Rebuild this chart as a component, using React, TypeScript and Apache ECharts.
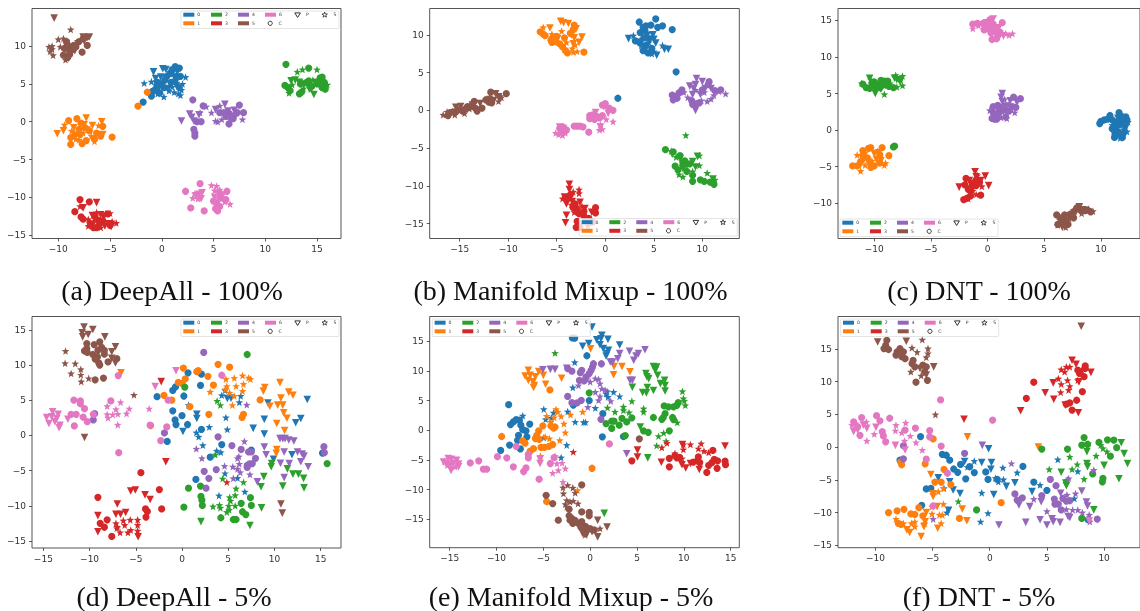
import React, { useEffect, useRef } from "react";
import * as echarts from "echarts";

type P = number[][];
const classNames = ["0", "1", "2", "3", "4", "5", "6"];
const domainNames = ["C", "P", "S"];
const colors = ["#1f77b4", "#ff7f0e", "#2ca02c", "#d62728", "#9467bd", "#8c564b", "#e377c2"];
const captions = ["(a) DeepAll - 100%", "(b) Manifold Mixup - 100%", "(c) DNT - 100%", "(d) DeepAll - 5%", "(e) Manifold Mixup - 5%", "(f) DNT - 5%"];

// Panel (a)
const a0c: P = [[-1.8,2.6],[-1,3.4],[-0.9,4],[-0.6,4.3],[-0.2,3.8],[0.2,4.5],[0.5,6],[0.8,6.4],[1.3,7.3],[1.7,7.1],[1,6.9],[1.4,6],[0,5],[1.7,4.5],[1.2,5.3],[1.8,6],[0.9,5.2],[-0.4,5.2],[0.3,5.5]];
const a0p: P = [[-0.8,6.6],[0.1,7],[0.4,6.9],[-0.6,5.7],[-0.5,5],[-0.1,5.9],[0.4,5.8],[1,6.3],[1.5,6.6],[-0.3,4.4],[0.6,4.4],[1.4,4.8],[1.5,5.6]];
const a0s: P = [[-1.7,5.1],[-1,5.3],[-0.4,3.7],[0.2,3.3],[1.6,3.7],[1.2,3.9],[2.3,5.9],[2,5],[1.8,3.5],[-0.6,4.9],[0.7,4.1],[1.9,4.2],[1,4.6]];
const a1c: P = [[-2.3,2.05],[-1.4,3.9],[-4.8,-2.05],[-9,0.15],[-8.2,0.4],[-8.8,-3],[-8.8,-2.1],[-8.4,-1.7],[-8,-1],[-7.8,-0.2],[-7.7,-2.9],[-7.3,-2.5],[-7,-1.2],[-6.5,-2.3],[-6.3,-1.5],[-5.7,-0.6],[-5.9,-1.9],[-7.9,-1.7],[-7.4,-0.8]];
const a1p: P = [[-10.1,-1.6],[-9.5,-1.2],[-7.3,0.5],[-5.8,0],[-5.7,-1.7],[-6,-1.9],[-7.2,-1.1],[-8.5,-0.8],[-7.5,-0.4],[-6.7,-0.5]];
const a1s: P = [[-9.4,-0.4],[-8.7,-1.2],[-8,-2.4],[-6.5,-2.6],[-6.1,-0.5],[-7.6,-1.5],[-8.3,-2.3],[-6.8,-1.9]];
const a2c: P = [[12,7.6],[11.9,4.8],[12.2,4.5],[12.4,4.1],[13.3,3.7],[13.5,3.9],[14,5.2],[14.5,4.7],[15,5],[15.3,5.8],[15.5,5.9],[15.7,5.2],[15.8,4.3],[15.5,4.5],[14.2,7.1],[13.4,5],[14.2,5.4]];
const a2p: P = [[12.9,5.5],[13.3,5.2],[13.8,5],[14.2,4.5],[14.7,3.6],[14.9,5.2],[15.2,4.9],[12.5,5.4]];
const a2s: P = [[13.1,6.6],[13.6,6.9],[15,6.9],[12.3,3.8],[16,4.9],[12.6,4.9],[13.7,4.4],[14.4,4.3],[15.4,5.3],[14.6,5.5]];
const a3c: P = [[-7.9,-10.3],[-7,-10.6],[-8.4,-11.9],[-7.8,-12.6],[-7.6,-12.9],[-6.9,-13.5],[-6.6,-14],[-6.3,-14],[-6.2,-13],[-6,-13.5],[-5.2,-12.2],[-5,-13.7],[-6.5,-12.5],[-5.7,-13.1]];
const a3p: P = [[-6.3,-10.7],[-7.6,-11.4],[-6.7,-12.4],[-5.9,-12.3],[-5.6,-12.6],[-5.1,-13.5],[-4.9,-13.9],[-5.5,-13.8]];
const a3s: P = [[-7.9,-11.2],[-6.3,-12],[-5.4,-12.1],[-5,-12.1],[-7.1,-12.9],[-6.6,-13.2],[-4.4,-13.4],[-5.9,-14],[-4.8,-13.2],[-7.1,-13.8]];
const a4c: P = [[3,2.9],[4,2.1],[3.1,-1],[3.2,-1.5],[3.2,-1.9],[7.5,2.2],[7.9,1.2],[6.5,1.1],[6.2,0.7],[6,1.2],[5.6,1.2],[6.9,0.4],[6.5,-0.3],[3.8,0],[3.4,0],[6.6,0.7],[7.3,1.2]];
const a4p: P = [[1.9,0.1],[2.7,1],[2.9,0.6],[3.1,0.1],[3.6,0.9],[6.1,2.3],[7,1.5],[6.6,0.2],[5.2,1.6],[6.4,1.4],[7.1,0.7]];
const a4s: P = [[4.3,2],[5.6,2.1],[7.8,0.3],[5.2,0.1],[5.4,0],[5.8,0.3],[7.2,1.1],[4.8,1.2],[6.9,0.9],[3.7,1.2]];
const a5c: P = [[-7.7,9.2],[-7.2,10.1],[-9.2,10.6],[-9,10],[-9.4,9.7],[-9.5,8.8],[-8.7,9.5],[-8.5,10.1],[-8,10.6],[-7.6,11],[-7.3,11.2],[-8.9,8.9],[-9.1,8.5],[-8.9,9.3],[-8.3,9.9]];
const a5p: P = [[-10.4,13.7],[-7.6,11.2],[-7,11.2],[-7.5,10.7],[-8.1,10.3],[-9.2,10],[-8.8,9],[-9,8.4],[-8.4,9.4]];
const a5s: P = [[-8.8,12.2],[-10,10.9],[-9.8,9.9],[-10.6,10],[-10.9,9.9],[-10.8,9.3],[-10.5,8.8],[-10.6,9.6],[-9.3,8.2],[-9.5,11]];
const a6c: P = [[3.7,-8.2],[2.3,-9.2],[2.8,-11.4],[4.1,-11.8],[6.3,-9.2],[6.2,-10.3],[5.2,-11.5],[5.4,-11.8],[5.6,-11.2],[5.3,-10.8],[5,-10.5],[5.6,-10.1]];
const a6p: P = [[3.3,-9.8],[3.6,-9.6],[3.9,-9.4],[3.8,-10.2],[5.1,-10],[5.5,-9.5],[6,-10.4],[5.7,-9.7]];
const a6s: P = [[3.2,-9.5],[4.8,-8.4],[5.3,-8.5],[6.6,-10.9],[5.1,-9.1],[3.5,-10.2],[5.9,-9.6],[6.1,-10.6],[3,-10.1],[5.6,-9]];

// Panel (b)
const b0c: P = [[5.2,12.1],[3.5,11.7],[3.9,11],[4.2,11.2],[4.7,11.3],[5.4,11],[5.9,11.2],[6.9,10.7],[3.6,10.3],[4.1,10.5],[7.3,5.1],[1.3,1.6],[3.1,9.2],[3.6,8.9],[4.2,8.6],[3.9,7.9],[4.4,7.6],[4.8,8.2],[4,9.6],[4.5,9.5]];
const b0p: P = [[2.4,9.5],[5,9.4],[5.2,8.9],[6.1,8.1],[6.5,8.1],[5.3,7.3],[4.3,9.9],[4.9,10],[3.4,9]];
const b0s: P = [[2.9,9.9],[3.6,9.3],[4.5,9],[5,7.8],[4.8,7.5],[5.9,8.6],[4.1,8.2],[4.6,7.9],[3.7,8.6]];
const b1c: P = [[-2.2,7.7],[-6.7,10.4],[-6.4,10.1],[-6.2,9.9],[-5.5,9.5],[-5.5,9],[-5,9.8],[-4.7,8.8],[-4.4,8.4],[-4.1,7.9],[-3.9,7.6],[-3.3,10.7],[-3.6,10.2],[-3.2,11.3],[-5.6,9.3],[-5.1,9.1],[-4.2,9.6]];
const b1p: P = [[-4.6,11.8],[-4.3,11.6],[-5.7,10.9],[-3.8,11.5],[-3,10.8],[-3.2,9.6],[-2.4,9.7],[-2.7,9],[-4.9,9.5],[-3.5,10],[-5.2,9.2],[-3.3,8.8]];
const b1s: P = [[-6.4,11],[-3.1,8.7],[-3.4,8.2],[-3.3,7.7],[-4.5,10.5],[-4,9],[-5.5,10.1],[-2.9,7.8]];
const b2c: P = [[6.2,-5.2],[7,-5.5],[7.7,-6],[8,-6.9],[7.2,-7.4],[7.5,-7.9],[8.4,-8.1],[9,-8.6],[9,-9.4],[9.8,-9.2],[10.2,-9.4],[10.8,-9.5],[11.2,-9.8],[8.2,-6.7],[8.7,-7.1],[8,-7.3]];
const b2p: P = [[6.9,-5.8],[7.7,-6.4],[8.4,-7.3],[9,-6.8],[9.5,-6.1],[8,-7.7],[11.1,-9.1],[9.3,-7.5]];
const b2s: P = [[8.3,-3.3],[6.8,-5.4],[7.3,-6.2],[7.6,-8.5],[8,-8.8],[9.7,-6],[9.7,-7.3],[10.5,-8.3],[11.3,-9.2],[9,-8.1]];
const b3c: P = [[-1,-12.9],[-1,-13.6],[-3.6,-11.2],[-3.9,-11.7],[-3.1,-12.4],[-2.9,-13.1],[-2.7,-13.7],[-2.2,-14],[-1.7,-14.3],[-1.3,-14.8],[-3,-15.5],[-2.6,-15.5],[-2.9,-14.7],[-3.3,-12.9],[-2.2,-13.4]];
const b3p: P = [[-3.7,-9.8],[-3.7,-10.5],[-4.2,-11.5],[-4,-12.4],[-4,-13.9],[-4.1,-14.9],[-3.4,-12.1],[-2.6,-12.2],[-2.1,-13],[-1.4,-13.5]];
const b3s: P = [[-2.7,-10.5],[-2.7,-11],[-3.3,-10.8],[-4.4,-11.7],[-3.5,-12.5],[-2.4,-12.7],[-1.8,-15.3],[-3.2,-13.5],[-2.1,-14.5]];
const b4c: P = [[6.9,2],[7,1.4],[7.4,1.6],[7.6,2.3],[7.9,2.7],[10.7,3.8],[10.6,3.4],[9,0.8],[9.4,0.9],[9.7,1],[8.9,1.3],[11.3,2.6],[11.9,2.7],[7.2,1.8],[10,2.7]];
const b4p: P = [[9.4,4.2],[8.7,3.2],[9.1,2.9],[10,3.8],[10.3,2.9],[9.3,3.4],[9.3,0],[9.8,2.1],[9,2.1],[10.9,2.9]];
const b4s: P = [[12.4,2.2],[8.1,2.4],[8.5,1.7],[9.3,2.7],[10.5,1.2],[10.9,1.5],[11.2,2],[9.9,1.3],[10.2,2.4],[11.7,2.5]];
const b5c: P = [[-10.2,2.2],[-11.8,2.4],[-16.2,-0.7],[-16,-0.3],[-15.7,-0.2],[-15,0.1],[-14.7,-0.1],[-14.2,0.5],[-13.9,0.5],[-13.4,0.3],[-13.2,-0.1],[-13.5,1.2],[-12.7,0.3],[-12.3,1.4],[-12,1.1],[-11.7,1],[-15.4,-0.2],[-14.4,0.2]];
const b5p: P = [[-15.4,0.4],[-14.9,0.5],[-13.7,0.7],[-12.9,0.9],[-11.3,2.2],[-11,1.8],[-11.5,1.3],[-10.9,1.5]];
const b5s: P = [[-16.7,-0.6],[-16.3,-0.2],[-15.5,-0.6],[-14.5,-0.4],[-14,0.2],[-12.8,0.4],[-11,1.2],[-10.7,1.7],[-11.9,1.8]];
const b6c: P = [[-1.7,-2.9],[-3.2,-2.1],[-2.9,-2.1],[-2.6,-2.1],[-2.3,-2.2],[-1.6,-0.7],[-1.6,-1.1],[-1.3,-0.6],[-1.1,-1.2],[-0.9,-0.8],[-0.6,-1],[-0.3,-0.7],[-0.3,0.7],[0,0.9],[0.4,0.3],[0.8,0],[-4.7,-2.4],[-4.2,-2.7],[-4,-2.6],[-4.5,-2.7],[-4.4,-2.2]];
const b6p: P = [[-4.7,-2.2],[-4.5,-2.3],[-4.3,-2.4],[-0.5,-2.2],[0.3,-0.4],[-1,-0.3]];
const b6s: P = [[-5.1,-3],[-4.8,-3.2],[-4.4,-3.3],[-4.1,-3],[0.8,-1.5],[-0.5,-1.9],[-0.3,-2.5],[0.1,-1.2],[-0.6,-2.6],[0,0.5]];

// Panel (c)
const c0c: P = [[9.9,0.9],[10,1.2],[10.3,1.4],[10.6,1.5],[10.8,2],[11,1.4],[11.6,2.4],[11.8,1.9],[12.2,1.8],[12.3,1.4],[11.3,0.4],[11,0.2],[11.5,-0.2],[11.2,-1],[11.9,-1],[12,-0.4],[12,0.8],[11.5,1.2],[11.2,0.1],[11.7,0.8],[11.4,-0.6]];
const c0p: P = [[11.2,0.9],[11.5,1.6],[11.9,1.3],[11.1,-0.4],[11.8,-0.7],[12.2,0.3],[11.5,0.4]];
const c0s: P = [[11.2,-0.7],[11.7,-1.1],[12.3,-0.2],[12.4,1.1],[11,0.7],[12,0.1],[11.6,-0.3]];
const c1c: P = [[-11.9,-4.9],[-11.5,-4.9],[-11.2,-4.3],[-11,-3.5],[-11,-2.8],[-10.5,-2.5],[-10.6,-3.8],[-10.3,-2.4],[-10.3,-5.1],[-10,-4.9],[-9.3,-2.4],[-9.5,-3.4],[-8.7,-3.5],[-9.5,-4.5],[-10.4,-4.4]];
const c1p: P = [[-10.9,-4],[-10,-3.2],[-9.8,-4],[-9.6,-3.1],[-11.2,-4.7],[-9.4,-4.2]];
const c1s: P = [[-11.5,-3.4],[-11.2,-5.6],[-10.8,-4.8],[-9.1,-4.8],[-9,-4.5],[-10.2,-4.2],[-9.7,-2.9],[-10.8,-3.1]];
const c2c: P = [[-11,6.3],[-10.7,5.8],[-10.4,5.7],[-10.2,6.4],[-9.9,5.9],[-9.5,5.8],[-9.4,6.8],[-9.1,6.7],[-8.8,6.7],[-8.7,6],[-8.3,5.8],[-8.2,-2.2],[-8.3,-2.3],[-9.2,6.2],[-10,6.6],[-9.6,6.3]];
const c2p: P = [[-10.4,7.1],[-9.9,5],[-9,6.1],[-8,6.9],[-7.7,6.6],[-8.2,7.1],[-9.4,5.6]];
const c2s: P = [[-11.1,6.4],[-10.3,6.9],[-9.1,4.9],[-8.1,7.5],[-7.5,7.4],[-7.5,6.1],[-8,5.9],[-8.6,6.4],[-7.7,7]];
const c3c: P = [[-1.9,-6.6],[-2,-7.5],[-1.7,-8.1],[-2.1,-9.5],[-1.8,-9.3],[-1.5,-9],[-1.2,-7.2],[-0.9,-7],[-0.6,-8.9],[-0.7,-7.1],[-1.4,-7.8],[-1,-7.6],[-1.5,-8.2],[-1,-6.8]];
const c3p: P = [[-2.5,-7.8],[-1.1,-5.7],[-0.2,-6.3],[0.1,-7.6],[-1,-6.4],[-0.6,-6.9],[-1.6,-6.9]];
const c3s: P = [[-1.5,-7.2],[-1,-8.8],[-1.7,-9.4],[-0.9,-6.2],[-0.5,-7.7],[-1.3,-8.3]];
const c4c: P = [[0.4,1.6],[0.6,1.5],[0.8,1.5],[0.5,2.4],[0.5,3.2],[0.9,3.4],[1.1,2.5],[1.6,1.8],[1.9,2.6],[2.2,3.2],[2.3,4.5],[2.9,4.3],[2.5,3.1],[1.2,3.1],[1.7,2.7],[0.9,2.1]];
const c4p: P = [[1.3,5],[1.2,4.5],[1.3,3.9],[1.6,3.3],[2,4],[1.4,2.6],[2.6,3.8]];
const c4s: P = [[0.2,2.7],[1.2,1.7],[1.7,1.6],[0.9,2.9],[2.1,2.9],[2.4,2.4],[1.5,4.2],[0.6,2.1],[1.9,3.5]];
const c5c: P = [[6.1,-11.6],[6.4,-12],[6.2,-12.9],[6.8,-11.6],[7.1,-12.9],[7.3,-11.5],[7.6,-12],[7.9,-10.6],[8.6,-11],[9.1,-11.2],[8.8,-10.9],[8.2,-10.9],[6.8,-12.3]];
const c5p: P = [[7,-12.4],[7.8,-11.2],[8.1,-10.5],[8.4,-10.9],[7.6,-11.5],[6.6,-13.1],[6.6,-13.3]];
const c5s: P = [[6.4,-12.3],[6.9,-13.3],[7.2,-12.1],[7.6,-10.9],[8.3,-11.4],[9.3,-11.1],[6.2,-13],[8.9,-10.8],[7.4,-11.9]];
const c6c: P = [[-1.3,14.5],[-0.9,14.6],[-0.4,14.6],[0.2,15.1],[0.5,14.5],[0.4,14.1],[1.3,14.7],[1.1,13.4],[0.9,12.9],[0.4,12.4],[0.8,12.5],[-0.3,13.7],[0,13.9],[0.7,13.5],[0.3,13.3]];
const c6p: P = [[0.5,15.2],[0.1,14.3],[1.4,12.9],[0.6,13.7],[1,14],[-0.1,14.7]];
const c6s: P = [[-1.3,13.9],[-0.8,14.3],[1.6,13.2],[2.2,13.2],[1.9,13],[0.8,13.2],[1.3,13.2],[-0.3,14.1],[0.7,12.6]];

// Panel (d)
const d0c: P = [[-2.7,5.5],[-1,6.4],[-0.7,6.9],[0.65,8.9],[2.1,8.7],[2,7.1],[0.2,5.6],[-1,3.5],[0,2.8],[-0.75,2.2],[-0.65,1.55],[0.6,1.55],[2.1,0.85],[-1.6,-0.85],[4.3,-1.3],[3.05,-3.1],[7.5,-2.1],[15.2,-2.5],[1.5,-6.25]];
const d0p: P = [[1.6,3],[1.6,2.4],[0.1,0.55],[7.7,1],[9.3,4.6],[13.55,5.1],[8.9,2.3],[8.9,0.2],[12.85,2.4],[12.3,1.8],[9.9,-3.4],[11.9,-2.75],[4.9,5.25],[5.3,5.3]];
const d0s: P = [[0.7,4.3],[4.3,5.7],[4.65,6.4],[6.35,5.6],[6.2,4.7],[4.75,2.55],[4.9,0.85],[2.95,1.2],[1.55,0.4],[1.8,-0.2],[2.25,-1.4],[3.75,-2.2],[4.2,-2.4],[4,-8.55],[4.65,-5.4],[6,-6.05],[6.8,-8]];
const d1c: P = [[0.15,9.55],[1.6,9.05],[1.75,9.2],[2.8,8.4],[3.9,10.1],[5.15,9.7],[3.4,7.15],[0.35,8.05],[-0.4,7.55],[0,7.4],[-1.95,5.7],[-1.1,5],[0.85,4.1],[2.9,3],[-3.4,1.4],[6.65,3],[6.5,2.55],[8.45,5.05]];
const d1p: P = [[-6.6,8.9],[10.6,7.5],[8.95,6.8],[8.8,6.3],[11.55,6.15],[12,5.7],[10.7,5.3],[9.5,4.15],[10.35,4.3],[10.9,4.3],[11,3.2],[11.35,2.45],[10.25,1.7],[11.1,0.7],[10.25,-2],[10.2,-2.55]];
const d1s: P = [[4.75,8],[5.65,8.15],[6.55,8.5],[7.2,8.2],[7.4,8],[5.85,7],[6.65,7.3],[4.85,7],[4.7,6.55],[3.05,6.2],[5.15,6.05],[6.55,6.3],[5.65,5.6],[5.45,4.3]];
const d2c: P = [[0.3,6.85],[7.05,11.5],[15.7,-4],[0.7,-7.5],[2,-7.2],[2.05,-8.65],[2.15,-9.2],[2.2,-9.95],[0.2,-10.2],[7.4,-8.85],[7.5,-9.95],[6.4,-9.65],[6.55,-10.85],[6.9,-11.25],[4.2,-11.7],[5.55,-11.95],[5.85,-11.95]];
const d2p: P = [[2.05,-12.25],[7.35,-12.8],[8.6,-10.3],[8.55,-7.3],[8.85,-5.85],[10.9,-7.2],[9.65,-4.45],[9.7,-4],[11.4,-4.75],[12,-5.5],[12.6,-5.5],[13.15,-6.1],[13.2,-7.45]];
const d2s: P = [[3.8,4.9],[4.15,4.3],[3.6,-2.75],[4.4,-6.15],[6.65,-6.65],[5.85,-7.55],[5.75,-8.5],[5.15,-8.8],[5.25,-9.3],[3.35,-10.1],[4.05,-9.9],[4.15,-10.3],[5.05,-10],[5.75,-10],[4.85,-10.9],[5.1,-10.6]];
const d3c: P = [[-4.45,-5.3],[-9.1,-8.8],[-2.45,-7.7],[-2.2,-10.45],[-3.95,-10.45],[-3.75,-10.8],[-3.9,-11.6],[-8.85,-12.5],[-8.1,-12],[-8.4,-13.05],[-7.6,-14.35]];
const d3p: P = [[-2.25,7.65],[-1.75,-3.75],[-5.55,-7.9],[-5.05,-7.75],[-4,-8.45],[-3.45,-9.1],[-7,-9.75],[-9.1,-11.4],[-7.15,-11.2],[-6.65,-11.2],[-6.1,-10.95],[-9.1,-13.7],[-4.75,-14.4]];
const d3s: P = [[4.85,-6.65],[-7.15,-12.5],[-7,-13],[-6.35,-12.1],[-6.2,-12.75],[-5.6,-12],[-4.8,-12],[-4.8,-12.75],[-4.8,-13.55],[-5.55,-13.45],[-5.85,-13.8],[-6.7,-13.8],[-7.05,-13.2]];
const d4c: P = [[2.35,11.8],[-9.45,3.1],[-9.6,2.2],[-1.9,0.35],[3.9,-0.2],[5.4,-1.45],[6.4,-2],[7.2,-2.35],[7.5,-2.35],[7.95,-3.25],[7.6,-4],[7.3,-4.05],[7.05,-4.25],[7.05,-4.55],[2.4,-5.1],[3.7,-4.85],[2.9,-6.1],[2.6,-7.5],[15.35,-1.6],[15.4,-2.45]];
const d4p: P = [[10.6,-0.45],[10.9,-0.45],[11.15,-0.45],[11.55,-0.65],[12.1,-0.8],[8.9,-1.65],[9.1,-2.75],[11.05,-2.35],[10.65,-3.95],[11.6,-4],[11.05,-6],[12.5,-2.35],[13,-2.65],[13.2,-2.95],[12.85,-3.75],[13.65,-4.45],[8.15,-6.6]];
const d4s: P = [[7,4.35],[1.55,-1.9],[2.15,-3.25],[6.75,-0.85],[4.6,-4.35],[5.5,-4.45],[6,-3.25],[6.15,-3],[6.2,-4.05],[6,-4.75],[6.3,-5.25],[7.35,-5.55],[5.55,-6.1]];
const d5c: P = [[-8.5,8.15],[-9.4,7.9],[-8,10.45],[-7.05,10.9],[-10.3,13.05],[-10.3,12.35],[-10.55,12],[-10.25,11.8],[-9.5,12.9],[-9.1,12.1],[-9.65,11.5],[-8.9,13.3],[-8.7,12.5],[-8.4,12.1],[-8.4,11.55],[-9.15,11.15],[-9,10.3],[-8.9,10],[-9.4,10.85]];
const d5p: P = [[-10.6,15.4],[-10.8,14.6],[-9.65,15.05],[-10.75,14],[-10.15,14.35],[-8.35,14],[-7.2,12.6],[-7.6,11.9],[-7.6,10.95],[-7.2,10.3],[-10.55,-0.3],[10.7,-9.75],[10.85,-11.05]];
const d5s: P = [[-12.6,12],[-12.65,10.25],[-11.55,10.2],[-12,8.8],[-10.95,9.4],[-10.95,8.6],[-10.9,7.65],[-10.1,8.1],[-5.2,5.75]];
const d6c: P = [[-11.7,5],[-11,4.9],[-11,4.5],[-10.55,3.8],[-7.7,4.9],[-12,3],[-11.45,3],[-9.6,3],[-10.7,2.6],[-10.25,1.95],[-11.65,1.35],[-6.9,8.5],[-1.5,5],[4.3,8.55],[-3.45,1.45],[-1.65,1.2],[-2.3,-0.75],[-6.85,-2.45]];
const d6p: P = [[-14,3.35],[-13.4,3],[-14.65,2.55],[-14.1,2.65],[-13.55,2.4],[-14.4,1.7],[-13.75,1.95],[-13.2,1.45],[-13.3,1.1],[-12.35,2.3],[-2.9,6.95],[-0.65,9.2]];
const d6s: P = [[-8.1,4.15],[-6.65,4.7],[-5.7,3.8],[-7.15,3.7],[-6.95,3.05],[-7.5,2.95],[-8.1,3],[-8,2.5],[-6,3.1],[-6.95,1.5],[-3.55,3.8]];

// Panel (e)
const e0c: P = [[-8.7,4.3],[-8.5,0.95],[-8.2,1.4],[-7.9,1.8],[-7.55,1.7],[-7.4,0.85],[-7.2,0.1],[-7.65,-0.85],[-7.75,-1.7],[-6.85,-0.1],[-6.75,-1.1],[-6.45,1.05],[-8.6,-2.5],[-9.55,-3.4],[-7.45,-3.15],[-1.9,15.55],[-1.65,15.5],[-0.35,12.55],[-0.1,5],[-1.8,4.25],[1.35,2.8],[1.3,-1.1],[3.55,-1.05]];
const e0p: P = [[0.2,17.4],[-0.8,14.15],[-0.15,14.6],[0.7,15.25],[1.15,15.4],[1.25,16],[1.9,15.3],[1.05,14.4],[1.4,13.75],[1.95,13.45],[1.8,12.9],[1.7,12.5],[3.15,14.35]];
const e0s: P = [[-1.65,11.45],[-1.85,7.2],[1.8,6.55],[1.7,6.15],[2.5,6.45],[1.9,5.6],[3.15,5.7],[-4.95,3.55],[-3.9,2.95],[-4.75,1.85],[-4.15,2.1],[-7.2,2.45],[-2.4,3.15],[0.55,3.75],[-1.6,1.4],[-0.7,1.35],[-0.5,1.35],[-2.5,-2.5],[-3.1,-4.6],[-4.95,-1.25]];
const e1c: P = [[-4.3,6.8],[-9.45,-1.05],[-5.05,0.75],[-5.5,-0.1],[-5.7,-0.85],[-5.85,-1.4],[-5.45,-1.55],[-7.2,-1.8],[-6.95,-2.15],[-6.05,-3.1],[-6.4,-3.5],[-5.25,-2.9],[-4.9,-2.9],[-4.4,-2.7],[-4,-2.4],[-4.2,0.75],[-3.9,0.35],[-3.75,0.55],[0.2,-6.4],[-4.65,-12]];
const e1p: P = [[0.05,13.7],[-6.6,10.1],[-5.5,9.9],[-6.95,9.15],[-6.4,9.25],[-5.85,9],[-5,9.25],[-6.6,8.4],[-6.1,8.15],[-5.95,7.55],[-6.05,7.2],[-4.75,7.75],[-3.05,8.75],[2.55,10.75],[3.4,10.75],[2.5,9.35],[4.25,9.85]];
const e1s: P = [[-3.65,3.55],[-3.45,3.1],[-4.65,2.4],[-3.85,2.15],[-3.1,2.35],[-2.1,2.6],[-0.8,3.1],[-2.8,1.1],[-4.2,1.4],[-2.65,-0.4],[-3.25,-1.7],[-4.35,-1.4],[-4.8,-1.1],[-5.3,-4.35],[-1.35,-10.1]];
const e2c: P = [[-0.1,6.3],[1.7,1.1],[2.3,1.55],[2.55,1.55],[2.3,0.3],[3.4,2],[3.1,0.85],[3.9,1.4],[4.45,2.1],[6.75,2.15],[5.7,-0.1],[6.2,-0.35],[3.75,-0.9],[7.9,4.1],[8.35,3.95],[8.9,3.95],[9.25,4.2],[9.4,4.65],[8,2.8],[7.8,2.15],[7.65,1.85],[8.8,2.15],[8.9,1.8],[8.45,-0.1]];
const e2p: P = [[1.5,-14],[6.15,-4.65],[5.35,0.55],[4.5,7.25],[6.75,10.75],[7.1,10.65],[6.95,10.1],[7.2,9.25],[5.95,9.55],[6.05,9],[6.25,8.7],[7.5,7.85],[7.95,8.4],[8,7.55],[8,6.6],[6.75,6.7],[6.1,7.2],[5.6,6.35],[6,6.3]];
const e2s: P = [[-3.75,13],[4.45,4.9],[1.85,3.8],[2.65,3.1],[3.55,3.95],[3.55,3.35],[4.15,3],[5.7,3.65],[5.7,3.1],[9.85,6.55],[9.95,5.35],[10.05,4.95],[10.15,4.2],[9.3,1.3],[7.85,-0.45],[7.3,-1],[8.1,-1.85],[7.1,-2.6]];
const e3c: P = [[4.45,-5.15],[8.45,-6.15],[8.45,-4.75],[9.05,-4.25],[9.55,-4.55],[9.25,-4.65],[11.55,-4.5],[11,-5.35],[11.45,-5.15],[12.45,-7.1],[13.1,-3.4],[12.65,-5.9],[13,-5.45],[13.25,-4.9],[13.6,-5.15],[13.55,-6.4],[14.4,-5.2],[14.45,-5.8],[11.7,-5.45]];
const e3p: P = [[5.05,-3.35],[5.05,-4.5],[7.6,-5.4],[9.85,-2.4],[9.8,-5.8],[10.2,-6.35],[11.65,-6.6],[14.4,-2.65],[10.7,-5.6]];
const e3s: P = [[-1.8,-3.65],[7.65,-2.9],[8.2,-2.15],[9.95,-2.4],[9.95,-3.25],[10.7,-2.4],[11.55,-3.1],[11.85,-2.25],[12.65,-3.75],[12.15,-3.5],[9.05,-3.9],[9.8,-4.75]];
const e4c: P = [[-0.9,10.1],[-1.95,9.95],[-2.4,10.4],[-2.4,5.7],[-1.95,4.65],[-1.4,4.6],[-0.95,5.05],[-1.05,9.7],[0.35,11.2],[1.2,11.2],[0.25,10.65],[0.1,10.1],[-0.1,9.55],[-0.45,9],[-1.15,8.4],[-0.65,8.3],[1.15,1.85]];
const e4p: P = [[-5.05,10.2],[-4.25,10.25],[-3.75,10.25],[-2.5,10.45],[2.15,11.5],[2.4,11.5],[2.95,12.05],[3.15,12.9],[4.2,13.3],[5.15,12.9],[4.9,12.5],[4.65,11.8],[5.85,13.55],[4.25,8.4],[4.5,8.4],[3.9,-3.95]];
const e4s: P = [[-0.35,8.7],[0,8.15],[0.55,8.7],[0.9,8.6],[1.05,7.85],[1.25,7],[1.6,6.75],[-1.25,7.55],[0.55,6.45],[1.05,5.7],[0.9,5.05],[2.2,4.9],[-0.25,3.9]];
const e5c: P = [[-0.9,-9.2],[-4.7,-10.95],[-4,-12.35],[-3.4,-15.15],[5.25,-1.45],[-2.25,-13.3],[-2.25,-14.4],[-2.15,-15.15],[-1.85,-15.7],[-1.25,-15.7],[-0.9,-13.75],[-0.9,-15.4],[-0.1,-13.85],[-0.1,-14.4],[-0.7,-16.8],[0,-16.55],[0.45,-16.8],[-1.6,-15.2],[-2,-14.8],[-0.5,-16.2],[-1,-16.3]];
const e5p: P = [[1.8,-16.3],[0.8,-15.15],[0.8,-17.95],[-0.35,-17.5],[-0.8,-17.4],[0.2,-17.1]];
const e5s: P = [[-2.9,-9.65],[-2.85,-10.65],[-2.4,-9.25],[-1.85,-9.7],[-1.6,-10.55],[-2.5,-11.8],[-2.65,-12.45],[-2.15,-12.05],[-1.8,-11.9],[-1.3,-12.35],[-2.5,-12.9],[1.05,-16.55],[-0.55,-17.65]];
const e6c: P = [[-12.8,-5.5],[-11.9,-5.15],[-11.4,-6.55],[-11.05,-6.55],[-9.9,-4.45],[-8.9,-4.65],[-7.9,-2.7],[-8.2,-6.15],[-7.1,-6.95],[-6.85,-6.35],[-6.6,-4.05],[-6.6,-4.65],[-5.45,-8.25],[2.05,-2.3],[-4.25,-5.6],[-3.85,-4.6]];
const e6p: P = [[-15.65,-5.35],[-15.15,-4.75],[-14.8,-4.9],[-14.25,-5.05],[-15.3,-5.7],[-14.9,-5.9],[-14.6,-5.6],[-14.05,-6.15],[-14.85,-6.75],[-14.05,-5.7],[-5.35,-5.6],[-5.35,-4.9]];
const e6s: P = [[-15.55,-5.2],[-15.25,-5.9],[-14.4,-6.15],[-3.75,-4.35],[-3.55,-5.6],[-3,-5.5],[-2.65,-6.45],[-3.4,-6.75],[-4,-7.2],[-2.9,-8.7]];

// Panel (f)
const f0c: P = [[-6.05,1.6],[-7.85,-2],[-4.15,-1.1],[-3.8,-1.25],[-3.5,-2],[-3.15,-3.35],[-2.8,-3.85],[-2.55,-2.65],[-2.1,-4.85],[-1.75,-3],[-1.35,-3.9],[-0.35,-3.8],[-0.15,-4.95],[0.65,-4.95],[2.9,-2.95],[3.85,-5.35],[5,-6.6],[-5.55,-6.4],[-5.15,-6.3],[-5.95,-8.9],[8.6,-11.1]];
const f0p: P = [[-0.1,-0.25],[0.15,-2.35],[-2.2,-2.2],[0.1,-3.4],[1.45,-6],[2.2,-5.45],[0.35,-7.25],[-2.6,-7.1],[-3.2,-6.55],[-3.5,-5.3],[-4.5,-4.7],[3.7,-6.8],[-3.6,-9.65],[-0.7,-2.35]];
const f0s: P = [[-1.35,-2.15],[-1.95,-3.05],[1.15,-3.15],[2.4,-3.9],[1.2,-4.95],[0.5,-4.75],[0.75,-5.3],[4.4,-5.8],[-0.7,-7],[-4,-6.3],[-0.8,-11.4],[-0.15,-10.1],[-3.75,-10],[5.95,-1.9],[7.7,-3.7],[7.4,-7.85]];
const f1c: P = [[-4.95,1.25],[-7.8,-2.25],[-7.7,-2.7],[-5.65,-2.55],[-4,-3.4],[-4.8,-5.35],[-4.25,-5.35],[-3.4,-5.75],[1,-8.5],[-8.85,-10],[-8.1,-9.75],[-7.5,-9.5],[-8,-11.65],[-7.75,-11.8],[-6.9,-10.2],[-6.55,-10.3],[-6.2,-9.25],[-5.85,-10.5],[-2.65,-10.9]];
const f1p: P = [[4.25,0],[-1.95,1.55],[-5.15,-4.2],[-4.95,-7.15],[-4.95,-7.55],[-4.6,-9.1],[-2.4,-9.45],[-2,-11.25],[-7.25,-12.65],[-7,-13.05],[-6,-13.65],[-5.65,-11.4],[-5.75,-12.15],[-4.55,-12.4],[-5.55,-10]];
const f1s: P = [[-4.05,-6.3],[-4.5,-6.8],[-4.05,-8.7],[-8.2,-11],[-7.55,-11.65],[-6.85,-11.65],[-6.55,-11.4],[-6.55,-12.15],[-5.05,-9.1],[-5.05,-10.2],[-5.7,-11.65],[-4.4,-10.35],[-4.15,-10.35],[-4.25,-11.65]];
const f2c: P = [[4.55,-0.3],[6.8,-0.3],[8.25,1.45],[8.05,0.3],[8.55,0.4],[9.55,0.7],[10.3,1.1],[10.85,1.05],[11.1,-0.1],[10.55,-1.4],[9,-4.1],[9.9,-4.8],[9.85,-5.3],[-1.15,-9.6],[8.05,-10.9]];
const f2p: P = [[11.5,0.65],[8.5,-0.7],[11.75,-1],[12.05,-2.5],[8.5,-2.5],[8.55,-3],[10,-2.8],[6.25,-3.85],[6.7,-5.9],[6.65,-5.5],[11.3,-4.85],[9.1,-9.6]];
const f2s: P = [[-2.75,-8.3],[5.2,-3.4],[7,-1.5],[7.65,-2.65],[7.2,-3.4],[6.8,-5],[8.25,-4.9],[9.3,-1.35],[8.6,0.55],[9.7,0.3],[9.9,-0.2],[10.25,-0.7]];
const f3c: P = [[3.85,9.9],[3.2,7.45],[8.1,8.45],[7.6,7.15],[7,6.75],[6.7,6.55],[7.2,5.65],[8.35,12.4],[8.35,12],[8.25,10.75],[7.85,11.25],[7.7,11.75]];
const f3p: P = [[-2.25,4.25],[2.7,5.55],[4.85,8.3],[5.6,7.3],[5.55,9.8],[6.6,6.4],[7.75,5.25],[8.85,11.4],[7.2,13.25],[7.55,12.65],[7.8,9.95]];
const f3s: P = [[6.25,11.85],[7,12.25],[6,10.45],[6.55,11.5],[6.8,10.2],[6.25,9.6],[6.2,8.35],[6.9,8.7],[7,9.3],[6.7,12.25],[7.7,10.2],[8.05,11.75]];
const f4c: P = [[-7.55,0.2],[-7.55,-1.8],[-2.2,-0.95],[2.2,-7.15],[2.85,-7.75],[2.4,-8.1],[4.55,-7.4],[5.3,-4.95],[5.8,-5.9],[5.65,-7.95],[6,-8.7],[5.7,-8.7],[6.25,-9.6],[6.4,-7.85],[6.7,-8.25],[7,-8.2],[9.4,-11]];
const f4p: P = [[-0.65,0.25],[0.8,-11.9],[3.15,-11.5],[3.5,-9.1],[2.55,-8.85],[4.5,-8.35],[4.4,-11.1],[5,-11.9],[5.45,-10.95],[5.55,-11.4],[6.15,-11.5],[6.85,-10.6],[7,-10.75],[6.2,-7.05],[8.05,-6.7],[8.45,-8.4],[8.55,-9]];
const f4s: P = [[1.9,-2.5],[9.1,-3.5],[-4.95,-11],[3.85,-7.95],[5,-9.8],[6.75,-7.3],[6.9,-4.8],[7.5,-7.1],[6.7,-9.5],[7.25,-9.6],[7.7,-9.6],[8.1,-10],[8.7,-10.35],[8.75,-11.4]];
const f5c: P = [[-9,16.3],[-9.1,15.55],[-9.25,15.05],[-8.85,14.9],[-8.1,14.55],[-7.85,15.05],[-7.55,14.55],[-7.7,13.8],[-7.4,13.5],[-8.2,14.05],[-6.7,13.25],[-6.8,12.75],[-6.55,12.25],[-5.85,12.5],[-5.55,12.25],[-5.7,11.5],[-6.45,9.9],[-5.45,10.2]];
const f5p: P = [[8,18.45],[-9.8,16.05],[-7.3,16.15],[-4.9,12.25],[-6.1,12],[-5.55,11]];
const f5s: P = [[-5.9,16.4],[-6.8,15.15],[-6.35,14.5],[-5.4,15.05],[-5.4,14.3],[-5.55,13.7],[-6.9,11.5],[-6,10.9],[-4.75,4.95]];
const f6c: P = [[-4.3,7.2],[0.25,4.1],[-11.2,4.5],[-9.9,4.8],[-9.6,4],[-8.75,4.4],[-11.35,1.8],[-6.5,2.9],[-5.25,2.5],[-5.25,1.55],[-4.25,0.15],[-5.55,-1.85],[-7.4,2.6],[-3.7,-4],[-4.95,-9],[-9.4,2.35],[-9.3,1.7],[-9.1,0.8],[-11.9,3.85],[-11.55,3.1]];
const f6p: P = [[-11.9,2.35],[-10.75,2.85],[-9.95,3],[-8.25,0.25],[-7.4,-0.45],[-11.05,3.35],[8.7,-11.25],[-11.55,2.6]];
const f6s: P = [[-12.05,3.35],[-11.7,3.6],[-10.8,3.85],[-10.75,0.95],[-10.1,2],[-8.2,3.35],[-8.25,2.5],[-7.7,2.2],[-7.35,3.7],[-6.95,1.7],[-7.45,0.95],[-6.45,0.7],[-5.9,-0.45]];

const panelA = [[a0c,a0p,a0s],[a1c,a1p,a1s],[a2c,a2p,a2s],[a3c,a3p,a3s],[a4c,a4p,a4s],[a5c,a5p,a5s],[a6c,a6p,a6s]];
const panelB = [[b0c,b0p,b0s],[b1c,b1p,b1s],[b2c,b2p,b2s],[b3c,b3p,b3s],[b4c,b4p,b4s],[b5c,b5p,b5s],[b6c,b6p,b6s]];
const panelC = [[c0c,c0p,c0s],[c1c,c1p,c1s],[c2c,c2p,c2s],[c3c,c3p,c3s],[c4c,c4p,c4s],[c5c,c5p,c5s],[c6c,c6p,c6s]];
const panelD = [[d0c,d0p,d0s],[d1c,d1p,d1s],[d2c,d2p,d2s],[d3c,d3p,d3s],[d4c,d4p,d4s],[d5c,d5p,d5s],[d6c,d6p,d6s]];
const panelE = [[e0c,e0p,e0s],[e1c,e1p,e1s],[e2c,e2p,e2s],[e3c,e3p,e3s],[e4c,e4p,e4s],[e5c,e5p,e5s],[e6c,e6p,e6s]];
const panelF = [[f0c,f0p,f0s],[f1c,f1p,f1s],[f2c,f2p,f2s],[f3c,f3p,f3s],[f4c,f4p,f4s],[f5c,f5p,f5s],[f6c,f6p,f6s]];
const panels = [panelA, panelB, panelC, panelD, panelE, panelF];

const xTicksA = [-10, -5, 0, 5, 10, 15];
const yTicksA = [-15, -10, -5, 0, 5, 10];
const xTicksB = [-15, -10, -5, 0, 5, 10];
const yTicksB = [-15, -10, -5, 0, 5, 10];
const xTicksC = [-10, -5, 0, 5, 10];
const yTicksC = [-10, -5, 0, 5, 10, 15];
const xTicksD = [-15, -10, -5, 0, 5, 10, 15];
const yTicksD = [-15, -10, -5, 0, 5, 10, 15];
const xTicksE = [-15, -10, -5, 0, 5, 10, 15];
const yTicksE = [-15, -10, -5, 0, 5, 10, 15];
const xTicksF = [-10, -5, 0, 5, 10];
const yTicksF = [-15, -10, -5, 0, 5, 10, 15];

const layouts = [
  { left: 32, top: 8.5, width: 309, height: 230, xMin: -12.54, xMax: 17.32, yMin: -15.45, yMax: 14.98, xt: xTicksA, yt: yTicksA, lx: 181, ly: 11, cx: 172, cy: 290 },
  { left: 429.7, top: 8.5, width: 309.6, height: 230, xMin: -18.09, xMax: 13.81, yMin: -16.98, yMax: 13.49, xt: xTicksB, yt: yTicksB, lx: 579.3, ly: 218.5, cx: 570.5, cy: 290 },
  { left: 838, top: 8.5, width: 309, height: 230, xMin: -13.19, xMax: 13.45, yMin: -14.83, yMax: 16.64, xt: xTicksC, yt: yTicksC, lx: 840, ly: 219, cx: 979, cy: 290 },
  { left: 32, top: 316.5, width: 309, height: 231.5, xMin: -16.23, xMax: 17.2, yMin: -16, yMax: 16.9, xt: xTicksD, yt: yTicksD, lx: 181, ly: 319, cx: 174, cy: 596.5 },
  { left: 429.7, top: 316.5, width: 309.6, height: 231.2, xMin: -17.13, xMax: 15.92, yMin: -19.78, yMax: 19.16, xt: xTicksE, yt: yTicksE, lx: 432.3, ly: 319, cx: 571, cy: 596.5 },
  { left: 838, top: 316.5, width: 309, height: 231.2, xMin: -13.27, xMax: 13.14, yMin: -15.37, yMax: 19.94, xt: xTicksF, yt: yTicksF, lx: 840.7, ly: 319, cx: 979, cy: 596.5 },
];

function starPts(cx: number, cy: number, r: number): number[][] {
  const out: number[][] = [];
  for (let i = 0; i < 10; i++) {
    const rr = i % 2 === 0 ? r : r * 0.42;
    const a = -Math.PI / 2 + (i * Math.PI) / 5;
    out.push([cx + rr * Math.cos(a), cy + rr * Math.sin(a)]);
  }
  return out;
}
const starPath = "path://M" + starPts(50, 50, 50).map((p) => p[0].toFixed(2) + " " + p[1].toFixed(2)).join("L") + "Z";
const triPath = "path://M0 0L100 0L50 90Z";
const symbols = ["circle", triPath, starPath];
const sizes = [7.2, 7.6, 7.6];
const tickColor = "#333333";
const frameColor = "#555555";

const minusFmt = (v: number) => String(v).replace("-", "\u2212");

function legendGroup(lx: number, ly: number) {
  const children: any[] = [
    { type: "rect", shape: { x: 0, y: 0, width: 158, height: 17.5, r: 1 }, style: { fill: "rgba(255,255,255,0.8)", stroke: "#d8d8d8", lineWidth: 0.7 } },
  ];
  const colX = [2.3, 30, 57, 84];
  const rowY = [3.7, 12.3];
  const txt = (x: number, y: number, t: string) => ({
    type: "text", x, y,
    style: { text: t, fontFamily: "DejaVu Sans", fontSize: 4.6, fill: "#444", textVerticalAlign: "middle", verticalAlign: "middle" },
  });
  colors.forEach((c, i) => {
    const col = Math.floor(i / 2), row = i % 2;
    children.push({ type: "rect", shape: { x: colX[col], y: rowY[row] - 2, width: 11, height: 4 }, style: { fill: c } });
    children.push(txt(colX[col] + 14, rowY[row], classNames[i]));
  });
  const outline = { fill: "none", stroke: "#333", lineWidth: 1 };
  children.push({ type: "circle", shape: { cx: 89.2, cy: 12.3, r: 2.1 }, style: outline });
  children.push(txt(97.5, 12.3, domainNames[0]));
  children.push({ type: "polygon", shape: { points: [[113.8, 1.9], [119.4, 1.9], [116.6, 6.5]] }, style: outline });
  children.push(txt(125, 3.7, domainNames[1]));
  children.push({ type: "polygon", shape: { points: starPts(143.7, 3.9, 2.8) }, style: { fill: "none", stroke: "#333", lineWidth: 0.9 } });
  children.push(txt(152.5, 3.7, domainNames[2]));
  return { type: "group", x: lx, y: ly, z: 100, silent: true, children: children.map((c) => ({ ...c, z: 100 })) };
}

export default function App() {
  const ref = useRef<HTMLDivElement>(null);
  useEffect(() => {
    if (!ref.current) return;
    document.body.style.margin = "0";
    document.body.style.overflow = "hidden";
    const chart = echarts.init(ref.current, undefined, { renderer: "svg" });
    const grid: any[] = [], xAxis: any[] = [], yAxis: any[] = [], series: any[] = [], graphic: any[] = [];
    layouts.forEach((l, pi) => {
      grid.push({ left: l.left, top: l.top, width: l.width, height: l.height, show: true, borderColor: frameColor, borderWidth: 1, backgroundColor: "#fff", containLabel: false });
      const axisCommon = {
        gridIndex: pi, type: "value", scale: false, splitLine: { show: false },
        axisLine: { show: false, onZero: false },
      };
      xAxis.push({
        ...axisCommon, position: "bottom", min: l.xMin, max: l.xMax,
        axisTick: { show: true, length: 3, inside: false, customValues: l.xt, lineStyle: { color: tickColor, width: 0.8 } },
        axisLabel: { show: true, margin: 6, customValues: l.xt, hideOverlap: false, formatter: minusFmt, color: tickColor, fontFamily: "DejaVu Sans", fontSize: 9 },
      });
      yAxis.push({
        ...axisCommon, position: "left", min: l.yMin, max: l.yMax,
        axisTick: { show: true, length: 3, inside: false, customValues: l.yt, lineStyle: { color: tickColor, width: 0.8 } },
        axisLabel: { show: true, margin: 6, customValues: l.yt, hideOverlap: false, formatter: minusFmt, color: tickColor, fontFamily: "DejaVu Sans", fontSize: 9 },
      });
      panels[pi].forEach((cls, ci) => {
        cls.forEach((pts, di) => {
          series.push({
            type: "scatter", name: "p" + pi + "-" + classNames[ci] + "-" + domainNames[di],
            xAxisIndex: pi, yAxisIndex: pi, data: pts, symbol: symbols[di], symbolSize: sizes[di],
            itemStyle: { color: colors[ci], opacity: 1 }, clip: true, silent: true, animation: false,
          });
        });
      });
      graphic.push(legendGroup(l.lx, l.ly));
      graphic.push({
        type: "text", x: l.cx, y: l.cy, z: 100,
        style: { text: captions[pi], fontFamily: "Liberation Serif", fontSize: 28, lineHeight: 28, fill: "#111", textAlign: "center", align: "center", verticalAlign: "middle", textVerticalAlign: "middle" },
      });
    });
    chart.setOption({ animation: false, backgroundColor: "#fff", grid, xAxis, yAxis, series, graphic: { elements: graphic } });
    return () => chart.dispose();
  }, []);
  return <div ref={ref} style={{ position: "absolute", left: 0, top: 0, width: 1140, height: 611, overflow: "hidden", filter: "blur(0.45px)" }} />;
}
